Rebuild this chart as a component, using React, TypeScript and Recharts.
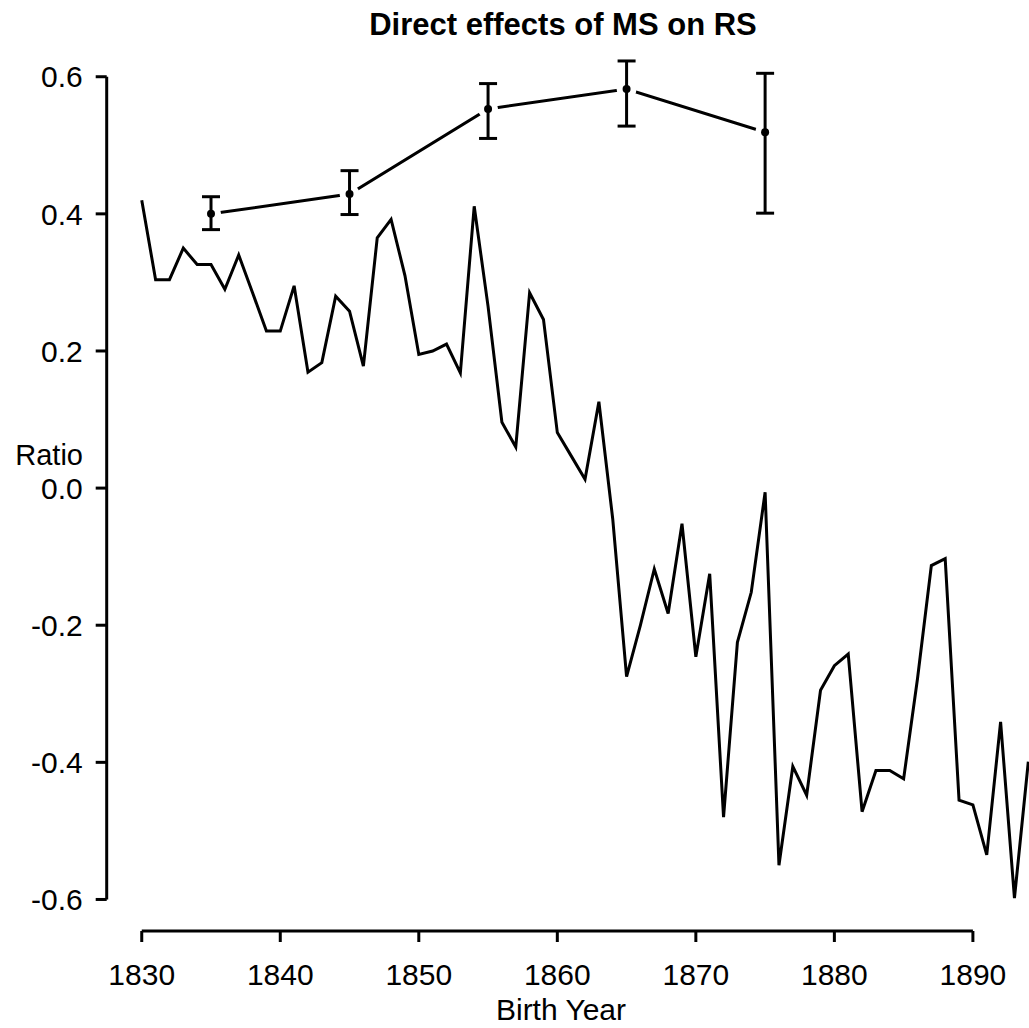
import React from "react";
import {
  ComposedChart,
  Line,
  Scatter,
  XAxis,
  YAxis,
  ErrorBar,
  ReferenceLine,
} from "recharts";

// Yearly ratio series (birth years 1830..1894)
const years: number[] = [
  1830, 1831, 1832, 1833, 1834, 1835, 1836, 1837, 1838, 1839,
  1840, 1841, 1842, 1843, 1844, 1845, 1846, 1847, 1848, 1849,
  1850, 1851, 1852, 1853, 1854, 1855, 1856, 1857, 1858, 1859,
  1860, 1861, 1862, 1863, 1864, 1865, 1866, 1867, 1868, 1869,
  1870, 1871, 1872, 1873, 1874, 1875, 1876, 1877, 1878, 1879,
  1880, 1881, 1882, 1883, 1884, 1885, 1886, 1887, 1888, 1889,
  1890, 1891, 1892, 1893, 1894,
];
const ratios: number[] = [
  0.42, 0.304, 0.304, 0.35, 0.326, 0.326, 0.29, 0.34, 0.285, 0.229,
  0.229, 0.295, 0.169, 0.183, 0.28, 0.258, 0.178, 0.365, 0.392, 0.31,
  0.195, 0.2, 0.21, 0.168, 0.411, 0.265, 0.096, 0.06, 0.285, 0.246,
  0.081, 0.047, 0.013, 0.126, -0.045, -0.275, -0.2, -0.118, -0.183, -0.052,
  -0.246, -0.125, -0.48, -0.225, -0.152, -0.006, -0.55, -0.406, -0.448, -0.295,
  -0.259, -0.242, -0.472, -0.412, -0.412, -0.424, -0.278, -0.113, -0.103, -0.455,
  -0.462, -0.535, -0.341, -0.598, -0.399,
];

// Decade estimates with confidence limits
const decadeYears: number[] = [1835, 1845, 1855, 1865, 1875];
const decadeEst: number[] = [0.4, 0.429, 0.553, 0.582, 0.519];
const decadeLow: number[] = [0.377, 0.399, 0.51, 0.528, 0.401];
const decadeHigh: number[] = [0.425, 0.463, 0.59, 0.623, 0.605];

const xTicks: number[] = [1830, 1840, 1850, 1860, 1870, 1880, 1890];
const yTicks: number[] = [-0.6, -0.4, -0.2, 0, 0.2, 0.4, 0.6];

const yearlyData = years.map((y, i) => ({ year: y, ratio: ratios[i] }));
const decadeData = decadeYears.map((y, i) => ({
  year: y,
  est: decadeEst[i],
  err: [decadeEst[i] - decadeLow[i], decadeHigh[i] - decadeEst[i]],
}));

const X_MIN = 1827.47;
const X_MAX = 1894.05;
const Y_MIN = -0.646;
const Y_MAX = 0.674;

const FONT = "'Liberation Sans', Arial, Helvetica, sans-serif";

const NoShape = () => <g />;

const GapDot = (props: any) => {
  const { cx, cy } = props;
  if (cx == null || cy == null) return null;
  return <circle cx={cx} cy={cy} r={10} fill="#fff" stroke="none" />;
};

const BlackDot = (props: any) => {
  const { cx, cy } = props;
  if (cx == null || cy == null) return null;
  return <circle cx={cx} cy={cy} r={4} fill="#000" stroke="none" />;
};

const fmtY = (v: number) => v.toFixed(1);

export default function App() {
  return (
    <div
      style={{
        position: "absolute",
        left: 0,
        top: 0,
        width: 1029,
        height: 1028,
        background: "#fff",
        fontFamily: FONT,
      }}
    >
      <ComposedChart
        width={1029}
        height={1028}
        margin={{ top: 26, right: 0, bottom: 0, left: 0 }}
      >
        <XAxis
          type="number"
          dataKey="year"
          domain={[X_MIN, X_MAX]}
          allowDataOverflow
          ticks={xTicks}
          axisLine={false}
          tickLine={{ stroke: "#000", strokeWidth: 3 }}
          tickSize={11}
          tickMargin={22}
          height={97}
          tick={{ fill: "#000", fontSize: 30, fontFamily: FONT }}
          interval={0}
        />
        <YAxis
          type="number"
          dataKey="est"
          domain={[Y_MIN, Y_MAX]}
          allowDataOverflow
          ticks={yTicks}
          tickFormatter={fmtY}
          axisLine={false}
          tickLine={{ stroke: "#000", strokeWidth: 3 }}
          tickSize={11}
          tickMargin={13}
          width={106.7}
          tick={{ fill: "#000", fontSize: 30, fontFamily: FONT }}
          interval={0}
        />
        <ReferenceLine
          segment={[
            { x: 1830, y: Y_MIN },
            { x: 1890, y: Y_MIN },
          ]}
          stroke="#000"
          strokeWidth={3}
          ifOverflow="visible"
        />
        <ReferenceLine
          segment={[
            { x: X_MIN, y: -0.6 },
            { x: X_MIN, y: 0.6 },
          ]}
          stroke="#000"
          strokeWidth={3}
          ifOverflow="visible"
        />
        <Line
          data={yearlyData}
          dataKey="ratio"
          type="linear"
          stroke="#000"
          strokeWidth={3}
          dot={false}
          activeDot={false}
          isAnimationActive={false}
        />
        <Scatter
          data={decadeData}
          dataKey="est"
          line={{ stroke: "#000", strokeWidth: 3 }}
          lineType="joint"
          shape={<NoShape />}
          isAnimationActive={false}
        />
        <Scatter
          data={decadeData}
          dataKey="est"
          shape={<GapDot />}
          isAnimationActive={false}
          {...({ zIndex: 1500 } as any)}
        />
        <Scatter
          data={decadeData}
          dataKey="est"
          shape={<BlackDot />}
          isAnimationActive={false}
          {...({ zIndex: 1600 } as any)}
        >
          <ErrorBar
            dataKey="err"
            direction="y"
            width={9}
            stroke="#000"
            strokeWidth={3}
            isAnimationActive={false}
            {...({ zIndex: 1600 } as any)}
          />
        </Scatter>
      </ComposedChart>
      <svg
        width={1029}
        height={1028}
        style={{ position: "absolute", left: 0, top: 0, pointerEvents: "none" }}
      >
        <text
          x={563}
          y={35}
          textAnchor="middle"
          fontFamily={FONT}
          fontWeight="bold"
          fontSize={31}
          fill="#000"
        >
          Direct effects of MS on RS
        </text>
        <text
          x={83}
          y={465}
          textAnchor="end"
          fontFamily={FONT}
          fontSize={29}
          fill="#000"
        >
          Ratio
        </text>
        <text
          x={561}
          y={1020}
          textAnchor="middle"
          fontFamily={FONT}
          fontSize={30}
          fill="#000"
        >
          Birth Year
        </text>
      </svg>
    </div>
  );
}
